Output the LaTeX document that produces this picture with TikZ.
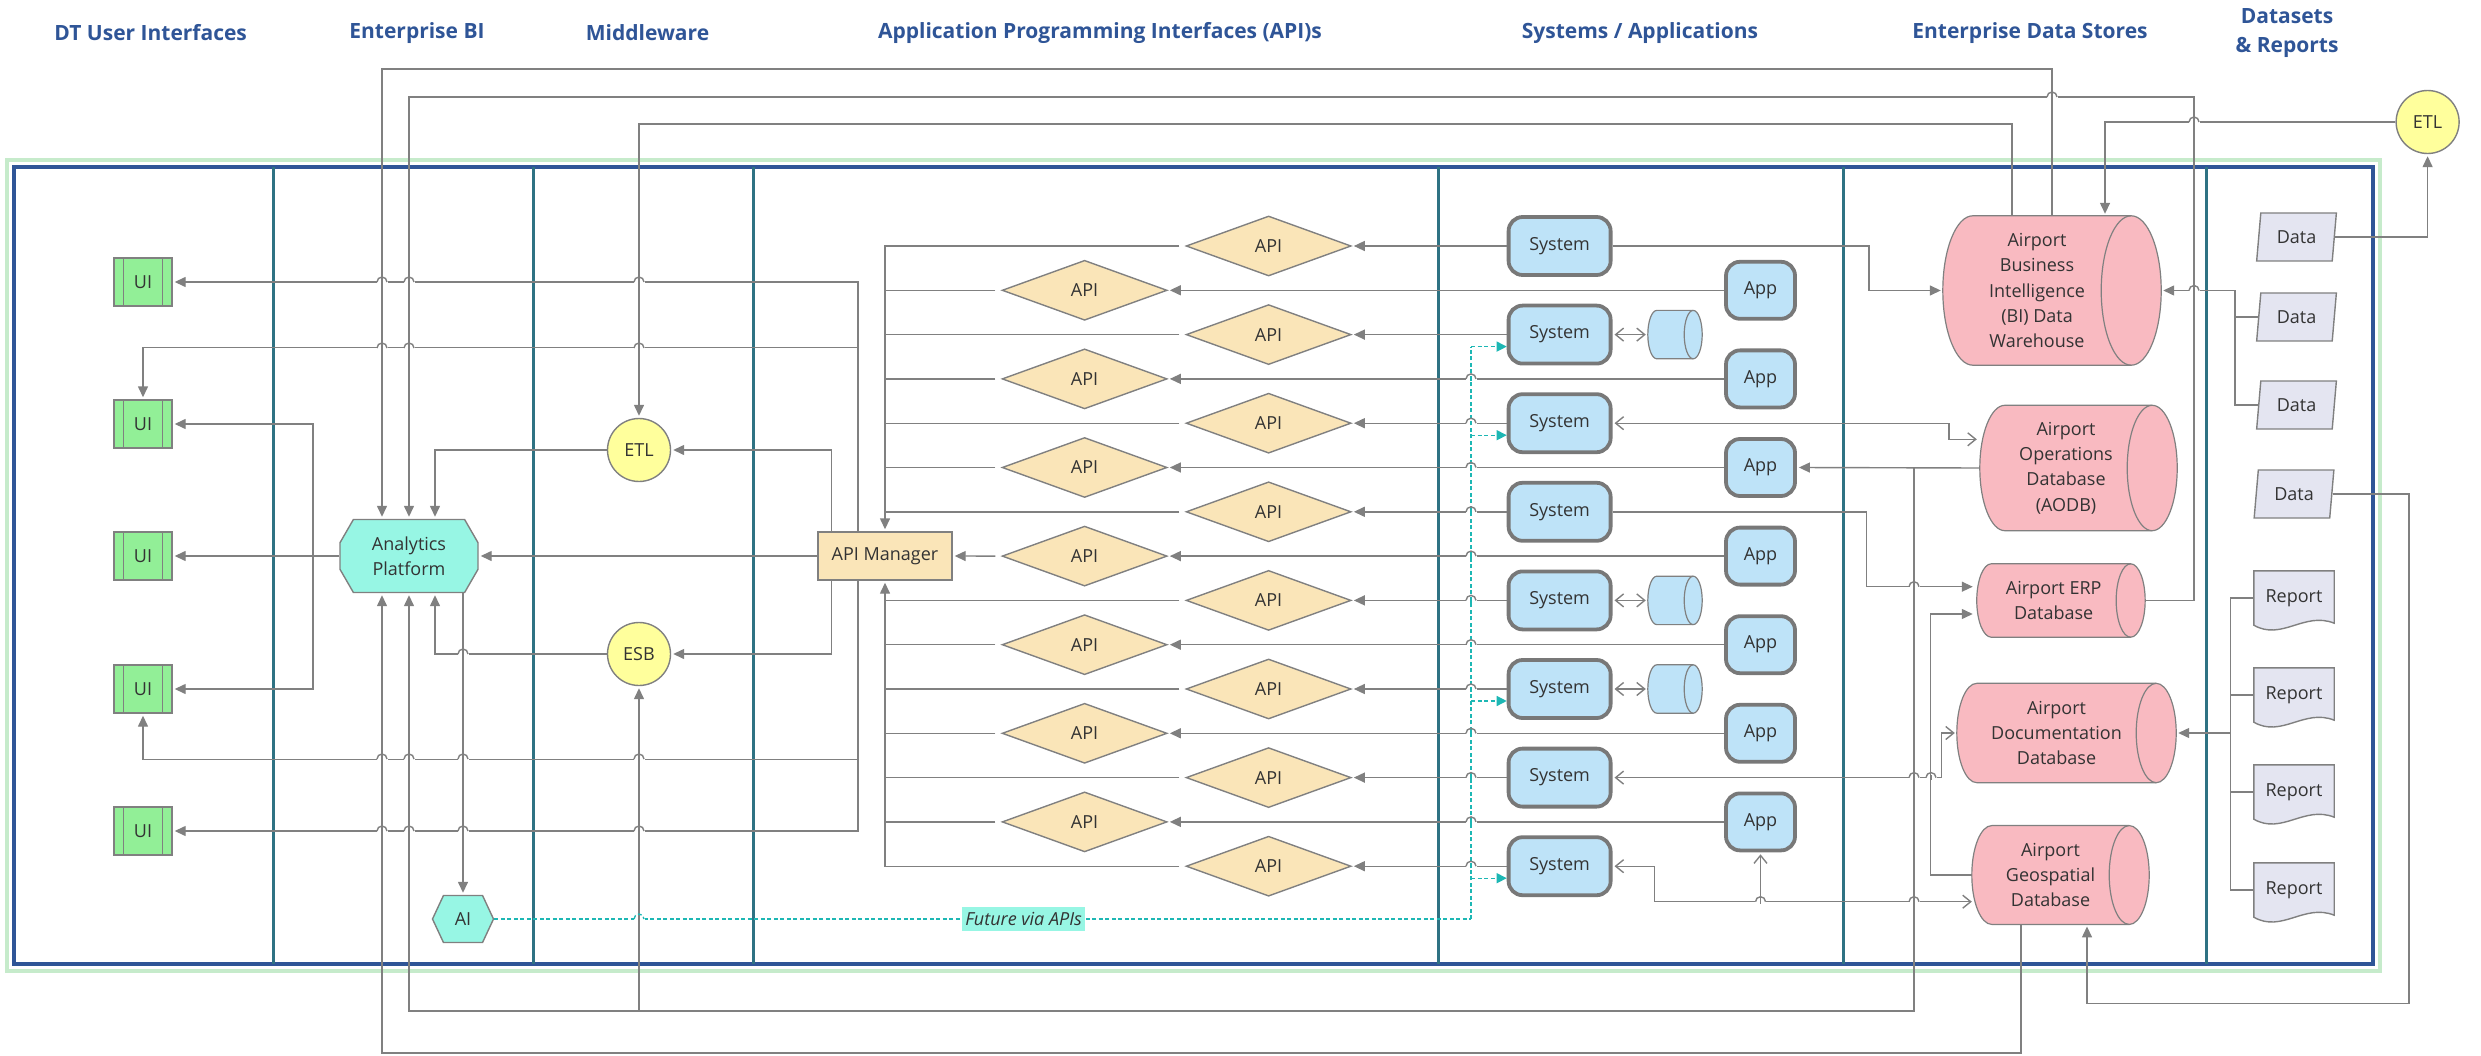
\documentclass[tikz,border=0pt]{standalone}
\usepackage{fontspec}
\setmainfont{Open Sans}
\usetikzlibrary{arrows.meta,calc,backgrounds,shapes.geometric,shapes.misc,shapes.symbols}

\definecolor{hdrblue}{HTML}{2F5597}
\definecolor{frameblue}{HTML}{2F5597}
\definecolor{divteal}{HTML}{2E7283}
\definecolor{framegreen}{HTML}{C6EBCB}
\definecolor{linegray}{HTML}{808080}
\definecolor{sysgray}{HTML}{787878}
\definecolor{txtgray}{HTML}{333333}
\definecolor{uigreen}{HTML}{92EF97}
\definecolor{aqua}{HTML}{97F6E4}
\definecolor{lemon}{HTML}{FFFF9C}
\definecolor{wheat}{HTML}{FAE5B8}
\definecolor{skyblue}{HTML}{BEE3F8}
\definecolor{rose}{HTML}{F9BAC1}
\definecolor{lavender}{HTML}{E4E5F1}
\definecolor{futteal}{HTML}{1DB7B4}

\tikzset{
  lbl/.style={text=txtgray, font=\fontsize{18}{25.4}\selectfont, align=center, inner sep=0pt},
  box/.style={lbl, draw=linegray, line width=1.4pt},
  hdr/.style={text=hdrblue, font=\fontsize{21}{29}\selectfont\bfseries, align=center},
  uinode/.style={box, fill=uigreen, minimum width=58pt, minimum height=48pt,
    path picture={\draw[linegray, line width=1.2pt]
      ([xshift=9.5pt]path picture bounding box.north west) -- ([xshift=9.5pt]path picture bounding box.south west)
      ([xshift=-9.5pt]path picture bounding box.north east) -- ([xshift=-9.5pt]path picture bounding box.south east);}},
  hubnode/.style={box, fill=aqua, chamfered rectangle, chamfered rectangle angle=30,
    chamfered rectangle xsep=17pt, minimum width=138pt, minimum height=73pt},
  ainode/.style={box, fill=aqua, signal, signal to=west and east, signal pointer angle=130,
    minimum width=61pt, minimum height=47pt},
  bubble/.style={box, fill=lemon, circle, minimum size=63pt},
  mgrnode/.style={box, fill=wheat, minimum width=134pt, minimum height=48pt},
  apinode/.style={box, fill=wheat, diamond, aspect=2.75, minimum width=165pt, minimum height=60pt},
  sysnode/.style={box, fill=skyblue, draw=sysgray, line width=3.8pt, rounded corners=14pt,
    minimum width=102pt, minimum height=58pt},
  appnode/.style={sysnode, minimum width=69pt, minimum height=57pt},
  store/.style={lbl},
  datanode/.style={box, fill=lavender, trapezium, trapezium left angle=80, trapezium right angle=100,
    trapezium stretches=true, minimum width=80pt, minimum height=48pt},
  repnode/.style={lbl, minimum width=80pt, minimum height=54pt},
  flabel/.style={lbl, fill=aqua, font=\fontsize{18}{22}\selectfont\itshape, inner xsep=3pt, inner ysep=5pt},
  wire/.style={draw=linegray, line width=1.4pt},
  arr/.style={wire, -{Triangle[length=11pt,width=10pt]}, shorten >=2pt},
  oarr/.style={wire, -{Straight Barb[length=8pt,width=13pt]}, shorten >=2pt},
  boarr/.style={wire, {Straight Barb[length=8pt,width=13pt]}-{Straight Barb[length=8pt,width=13pt]},
    shorten >=2pt, shorten <=2pt},
  future/.style={draw=futteal, line width=1.3pt, dash pattern=on 4pt off 2.5pt},
  farr/.style={future, -{Triangle[length=10pt,width=10pt]}},
  hop/.pic={\fill[white] (-5.5pt,-1.3pt) rectangle (5.5pt,1.3pt);
    \draw[wire,#1] (0,-2.2pt) -- (0,2.2pt);
    \draw[wire] (-5pt,0) arc[start angle=180,end angle=0,radius=5pt];},
  hop/.default=linegray,
  fhop/.pic={\fill[white] (-5.5pt,-1.3pt) rectangle (5.5pt,1.3pt);
    \draw[wire] (0,-2.2pt) -- (0,2.2pt);
    \draw[future] (-5pt,0) arc[start angle=180,end angle=0,radius=5pt];}
}

\begin{document}
\begin{tikzpicture}[x=1pt,y=-1pt]
\useasboundingbox (0,0) rectangle (2481,1056);

\draw[framegreen, line width=4pt] (7,160) rectangle (2380,971);
\draw[frameblue, line width=3.5pt] (14,167) rectangle (2373,964);
\foreach \x in {273,533,753,1438,1843,2206}
  \draw[divteal, line width=3pt] (\x,167) -- (\x,964);

\node[hdr] (hui) at (150.7,33) {DT User Interfaces};
\node[hdr] (hbi) at (417,33) {Enterprise BI};
\node[hdr] (hmw) at (647.5,33) {Middleware};
\node[hdr] (hapi) at (1100,33) {Application Programming Interfaces (API)s};
\node[hdr] (hsys) at (1640,33) {Systems / Applications};
\node[hdr] (hstore) at (2030,33) {Enterprise Data Stores};
\node[hdr] (hdata) at (2287,33) {Datasets\\\& Reports};

\foreach \i/\y in {1/282,2/424,3/556,4/689,5/831}
  \node[uinode] (ui\i) at (143,\y) {UI};
\node[hubnode] (ap) at (409,556) {Analytics\\Platform};
\node[ainode] (ai) at (463,919) {AI};
\node[bubble] (etl) at (639,450) {ETL};
\node[bubble] (esb) at (639,654) {ESB};
\node[mgrnode] (apim) at (885,556) {API Manager};

\foreach \i in {0,2,...,14} {
  \node[apinode] (api\i) at (1268.6,{246+44.3*\i}) {API};
  \node[sysnode] (sys\i) at (1559.6,{246+44.3*\i}) {System};
}
\foreach \i in {1,3,...,13} {
  \node[apinode] (api\i) at (1084.6,{246+44.3*\i}) {API};
  \node[appnode] (app\i) at (1760.5,{246+44.3*\i}) {App};
}
\foreach \i in {2,8,10}
  \node[lbl, minimum width=45pt, minimum height=48pt] (cyl\i) at (1670.5,{246+44.3*\i}) {};

\node[store, minimum width=188pt, minimum height=149pt] (bidw) at (2037,290.5) {Airport\\Business\\Intelligence\\(BI) Data\\Warehouse};
\node[store, minimum width=172pt, minimum height=125pt] (aodb) at (2066,468) {Airport\\Operations\\Database\\(AODB)};
\node[store, minimum width=153.5pt, minimum height=73pt] (erp) at (2053.7,600.5) {Airport ERP\\Database};
\node[store, minimum width=199pt, minimum height=99pt] (doc) at (2056.5,733) {Airport\\Documentation\\Database};
\node[store, minimum width=157pt, minimum height=98.5pt] (geo) at (2050.5,875) {Airport\\Geospatial\\Database};

\node[datanode] (data1) at (2296.5,237) {Data};
\node[datanode] (data2) at (2296.5,317) {Data};
\node[datanode] (data3) at (2296.5,405) {Data};
\node[datanode] (data4) at (2294,494) {Data};
\foreach \i/\y in {1/598,2/695,3/792,4/890}
  \node[repnode] (rep\i) at (2294,\y) {Report};
\node[bubble] (etl2) at (2427.6,122) {ETL};

\begin{scope}[on background layer]
\foreach \db/\rx/\col in {bidw/30pt/rose,aodb/25pt/rose,erp/14.5pt/rose,doc/20pt/rose,geo/20pt/rose,
    cyl2/9pt/skyblue,cyl8/9pt/skyblue,cyl10/9pt/skyblue} {
  \filldraw[fill=\col, draw=linegray, line width=1.2pt] let \p1=(\db.north west), \p2=(\db.south east) in
    (\x1+\rx,\y1) -- (\x2,\y1) arc[start angle=90,end angle=-90,x radius=\rx,y radius={(\y1-\y2)/2}]
    -- (\x1+\rx,\y2) arc[start angle=270,end angle=90,x radius=\rx,y radius={(\y1-\y2)/2}] -- cycle;
  \draw[linegray, line width=1.2pt] let \p1=(\db.north west), \p2=(\db.south east) in
    (\x2,\y1) arc[start angle=90,end angle=270,x radius=\rx,y radius={(\y1-\y2)/2}];
  \path let \p1=(\db.east) in (\x1+\rx,\y1) coordinate (\db-r);
}
\foreach \rp in {rep1,rep2,rep3,rep4}
  \filldraw[fill=lavender, draw=linegray, line width=1.4pt] (\rp.south west) -- (\rp.north west)
    -- (\rp.north east) -- ($(\rp.south east)+(0,-2)$)
    .. controls ($(\rp.south east)+(-30,-14)$) and ($(\rp.south west)+(28,16)$) .. (\rp.south west) -- cycle;
\end{scope}

\foreach \i in {0,2,...,14}
  \draw[arr] (sys\i.west) -- (api\i.east);
\foreach \i in {1,3,...,13}
  \draw[arr] (app\i.west) -- (api\i.east);
\draw[arr, shorten <=6pt] (api0.west) -| (apim.north);
\draw[arr, shorten <=6pt] (api14.west) -| (apim.south);
\foreach \i in {1,...,6,8,9,...,13}
  \draw[wire, shorten <=6pt] (api\i.west) -- (api\i.west -| apim.north);
\draw[arr, shorten <=6pt] (api7.west) -- (apim.east);
\foreach \i in {2,8,10}
  \draw[boarr] (sys\i.east) -- (cyl\i.west);

\coordinate (apsplit) at (313,556);
\draw[arr] (apim.west) -- (ap.east);
\draw[arr] (ap.west) -- (ui3.east);
\draw[arr] (apsplit) |- (ui2.east);
\draw[arr] (apsplit) |- (ui4.east);
\draw[arr] ($(apim.north west)+(40.5,0)$) |- (ui1.east);
\draw[arr] ($(apim.north west)+(40.5,0)$) |- ($(ui2.north)+(0,-52)$) -- (ui2.north);
\draw[arr] ($(apim.south west)+(40.5,0)$) |- ($(ui4.south)+(0,46)$) -- (ui4.south);
\draw[arr] ($(apim.south west)+(40.5,0)$) |- (ui5.east);
\draw[arr] ($(apim.north west)+(14,0)$) |- (etl.east);
\draw[arr] ($(apim.south west)+(14,0)$) |- (esb.east);
\draw[arr] (etl.west) -| ($(ap.north)+(26,0)$);
\draw[arr] (esb.west) -| ($(ap.south)+(26,0)$);
\draw[arr] (ai.north |- ap.south) -- (ai.north);

\coordinate (yA) at (0,69);
\coordinate (yB) at (0,97);
\coordinate (yC) at (0,124);
\coordinate (xB) at (2194,0);
\coordinate (aTop) at ($(bidw.north)+(15,0)$);
\coordinate (cTop) at ($(bidw.north)+(-25,0)$);
\coordinate (dTop) at ($(bidw.north)+(68,0)$);
\draw[arr] (aTop) -- (aTop |- yA) -| ($(ap.north)+(-27,0)$);
\draw[arr] (erp-r) -| (xB |- yB) -| (ap.north);
\draw[arr] (cTop) -- (cTop |- yC) -| (etl.north);
\draw[arr] (etl2.west) -| (dTop);
\draw[arr] (data1.east) -| (etl2.south);
\coordinate (dj) at (2235,290.5);
\draw[arr] (data3.west) -| (dj) -- (bidw-r);
\draw[wire] (data2.west) -- (data2.west -| dj);

\coordinate (yE) at (0,1053);
\coordinate (yF) at (0,1011);
\coordinate (xF) at (1914,0);
\coordinate (eBot) at ($(geo.south)+(-29.5,0)$);
\coordinate (fTap) at (aodb.west -| xF);
\draw[arr] (eBot) -- (eBot |- yE) -| ($(ap.south)+(-27,0)$);
\draw[arr] (fTap) -- (fTap |- yF) -| (ap.south);
\draw[arr] (esb.south |- yF) -- (esb.south);
\draw[arr] (aodb.west) -- (app5.east);
\coordinate (d4) at (2409,1003.5);
\draw[arr] (data4.east) -| (d4) -| ($(geo.south)+(36.5,0)$);

\coordinate (aodbIn) at ($(aodb.west)+(-1,-28.7)$);
\coordinate (erpInA) at ($(erp.west)+(-2,-13.8)$);
\coordinate (erpInB) at ($(erp.west)+(-2,13.5)$);
\coordinate (geoIn) at ($(geo.west)+(2,26.7)$);
\draw[arr] (sys0.east) -| (1869,290.5) -- (bidw.west);
\draw[boarr] (sys4.east) -| ($(aodbIn)+(-30,0)$) -- (aodbIn);
\draw[arr] (sys6.east) -| ($(erpInA)+(-108,0)$) -- (erpInA);
\draw[arr] (geo.west) -| ($(erpInB)+(-44,0)$) -- (erpInB);
\draw[boarr] (sys12.east) -| ($(doc.west)+(-15.5,0)$) -- (doc.west);
\draw[boarr] (sys14.east) -| ($(geoIn)+(-319.5,0)$) -- (geoIn);
\draw[oarr] (app13.south |- geoIn) -- (app13.south);

\coordinate (rj) at (2230.5,733);
\draw[wire] (rep1.west) -| (rj) |- (rep4.west);
\draw[wire] (rep2.west) -- (rep2.west -| rj);
\draw[wire] (rep3.west) -- (rep3.west -| rj);
\draw[arr] (rj) -- (doc-r);

\coordinate (fut) at (1471,919);
\foreach \i in {2,4,10,14}
  \coordinate (f\i) at ($(sys\i.west)+(0,12)$);
\draw[future] (ai.east) -- (fut) node[flabel, pos=0.542] {Future via APIs};
\draw[future] (fut) -- (fut |- f2);
\foreach \i in {2,4,10,14}
  \draw[farr] (fut |- f\i) -- (f\i);

\foreach \x in {382,409,639} {
  \path (\x,282) pic{hop};
  \path (\x,348) pic{hop};
}
\foreach \x in {382,409,463,639} {
  \path (\x,759) pic{hop};
  \path (\x,831) pic{hop};
}
\path (463,654) pic{hop};
\path (639,919) pic{fhop};
\path (2052,97) pic{hop};
\path (2194,122) pic{hop};
\path (2194,290.5) pic{hop};
\path (1914,586.7) pic{hop};
\path (1914,777.6) pic{hop};
\path (1931,777.6) pic{hop};
\path (1760.5,901.7) pic{hop};
\path (1914,901.7) pic{hop};
\foreach \i in {3,...,14}
  \path (1471,{246+44.3*\i}) pic{hop=futteal};
\end{tikzpicture}
\end{document}
